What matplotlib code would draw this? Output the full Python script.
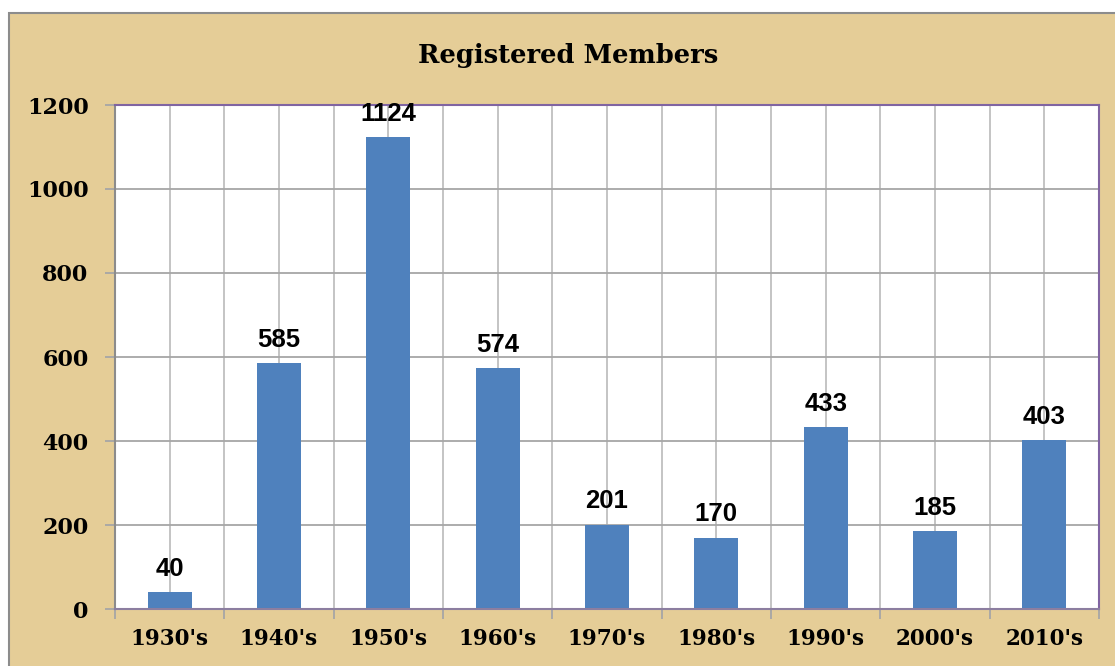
import matplotlib.pyplot as plt
from matplotlib.patches import Rectangle

decades = ["1930's", "1940's", "1950's", "1960's", "1970's", "1980's", "1990's", "2000's", "2010's"]
members = [40, 585, 1124, 574, 201, 170, 433, 185, 403]
yticks = [0, 200, 400, 600, 800, 1000, 1200]

W, H = 1115, 666
fig = plt.figure(figsize=(W / 100, H / 100), dpi=100)
fig.patch.set_facecolor('white')

# parchment-coloured chart area
bg = Rectangle((9 / W, -0.01), 1.0, (H - 13) / H + 0.01, transform=fig.transFigure,
               facecolor='#e5cd97', edgecolor='#8c8c8c', lw=1.5, zorder=-10)
fig.patches.append(bg)

ax = fig.add_axes([115 / W, (H - 609) / H, (1099 - 115) / W, (609 - 105) / H])
ax.set_zorder(1)
ax.set_facecolor('white')

x = list(range(len(decades)))
ax.bar(x, members, width=0.4, color='#4f81bd', zorder=3)

for xi, v in zip(x, members):
    ax.annotate(str(v), (xi, v), xytext=(0, 8), textcoords='offset points',
                ha='center', va='bottom', fontsize=18.5, fontweight='bold',
                family=['Liberation Sans Narrow', 'Liberation Sans', 'DejaVu Sans'],
                zorder=5, annotation_clip=False)

ax.set_xlim(-0.5, len(decades) - 0.5)
ax.set_ylim(0, 1200)

# gridlines
for k in range(2 * len(decades) + 1):
    ax.axvline(-0.5 + 0.5 * k, color='#bfbfbf', lw=1.3, zorder=1)
for yv in yticks[1:]:
    ax.axhline(yv, color='#a6a6a6', lw=1.3, zorder=1)

ax.set_yticks(yticks)
ax.set_yticklabels([str(t) for t in yticks], fontsize=16, fontweight='bold', family='DejaVu Serif')
ax.set_xticks(x)
ax.set_xticklabels(decades, fontsize=15.5, fontweight='bold', family='DejaVu Serif')
ax.tick_params(axis='x', length=0, pad=14)
ax.set_xticks([i - 0.5 for i in range(len(decades) + 1)], minor=True)
ax.tick_params(axis='x', which='minor', length=7, color='#a6a6a6', width=1.3)
ax.tick_params(axis='y', length=7, color='#a6a6a6', width=1.3, pad=12)

ax.spines['top'].set_color('#8064a2')
ax.spines['right'].set_color('#8064a2')
ax.spines['left'].set_color('#8c8c8c')
ax.spines['bottom'].set_color('#8c7ea0')
for s in ax.spines.values():
    s.set_linewidth(1.5)
    s.set_zorder(4)

fig.text(568 / W, (H - 55) / H, 'Registered Members', ha='center', va='center',
         fontsize=18.5, fontweight='bold', family='DejaVu Serif')

fig.savefig('out.png', dpi=100)
